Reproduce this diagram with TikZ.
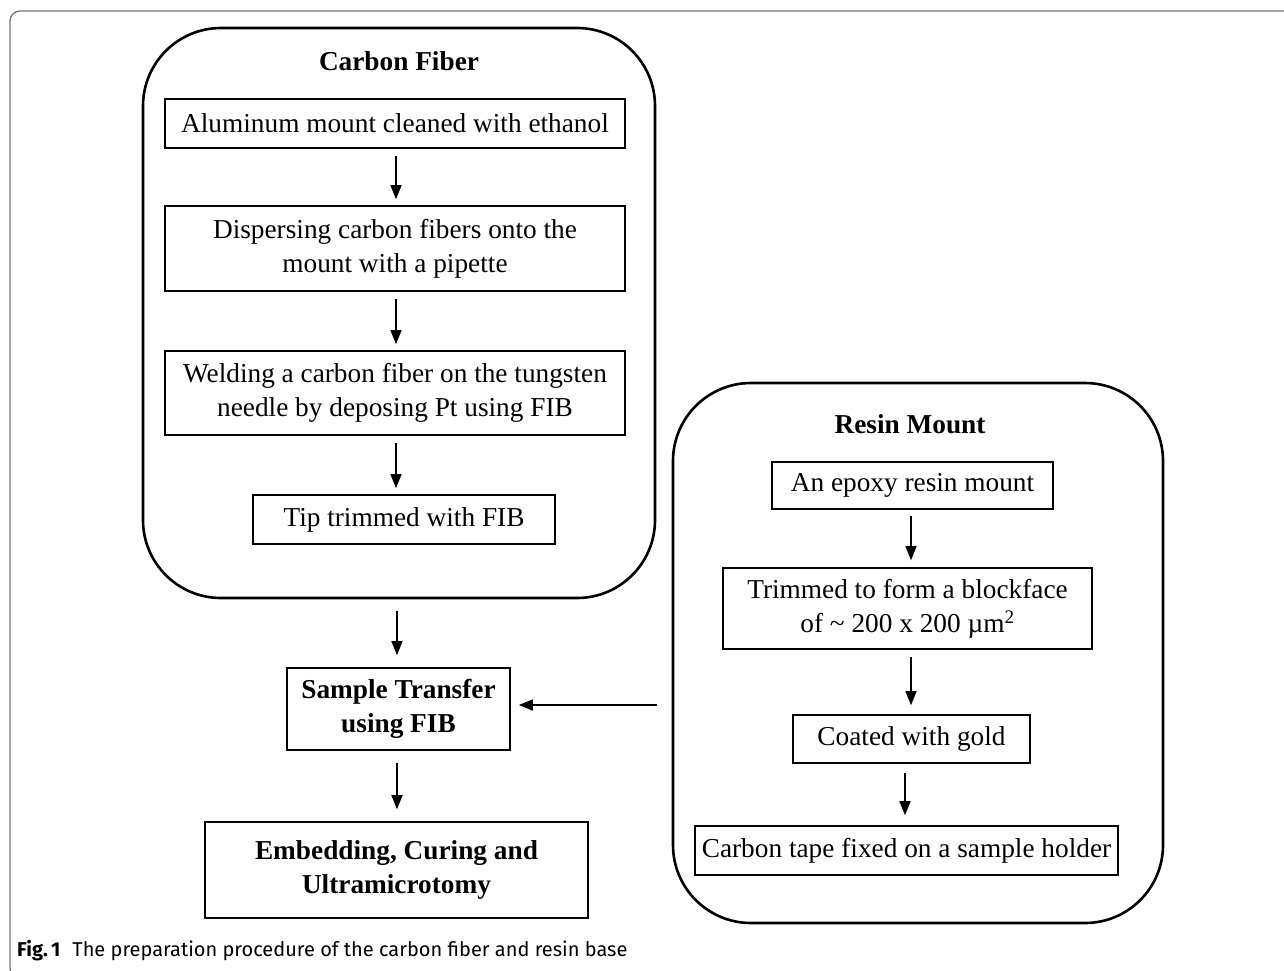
\documentclass[tikz,border=0pt]{standalone}
\usepackage{fontspec}
\setmainfont{Liberation Serif}
\newfontfamily\capfont{Fira Sans}
\usetikzlibrary{arrows.meta,calc}
\tikzset{
  stepbox/.style={draw, line width=1.6pt, align=center, inner sep=0pt,
    font=\fontsize{27.3}{34}\selectfont},
  groupbox/.style={draw, line width=2.6pt, rounded corners=78pt, inner sep=0pt},
  titletext/.style={font=\fontsize{27.3}{34}\selectfont\bfseries, inner sep=0pt},
  arr/.style={line width=1.4pt, -{Triangle[width=11pt,length=14pt]}},
  framestyle/.style={draw=black!55, line width=1.3pt, rounded corners=10pt}
}
\begin{document}
\begin{tikzpicture}[x=1pt,y=-1pt]
\useasboundingbox (0,0) rectangle (1284,970);
% outer frame
\draw[framestyle] (1300,11) -- (10,11) -- (10,978) -- (40,978);
% group boxes
\node[groupbox, minimum width=512pt, minimum height=570pt] (cf) at (399,313) {};
\node[groupbox, minimum width=490pt, minimum height=540pt] (rm) at (918,653) {};
\node[titletext] (cft) at (399,61) {Carbon Fiber};
\node[titletext] (rmt) at (910,424) {Resin Mount};
% carbon fiber steps
\node[stepbox, minimum width=460pt, minimum height=49pt] (a1) at (395,123.5) {Aluminum mount cleaned with ethanol};
\node[stepbox, minimum width=460pt, minimum height=85pt] (a2) at (395,248.5) {Dispersing carbon fibers onto the\\mount with a pipette};
\node[stepbox, minimum width=460pt, minimum height=84pt] (a3) at (395,393) {Welding a carbon fiber on the tungsten\\needle by deposing Pt using FIB};
\node[stepbox, minimum width=302pt, minimum height=49pt] (a4) at (404,519.5) {Tip trimmed with FIB};
% resin steps
\node[stepbox, minimum width=281pt, minimum height=47pt] (b1) at (912.5,485.5) {An epoxy resin mount};
\node[stepbox, minimum width=369pt, minimum height=81pt] (b2) at (907.5,608.5) {Trimmed to form a blockface\\of \textasciitilde{} 200 x 200 µm\textsuperscript{2}};
\node[stepbox, minimum width=237pt, minimum height=48pt] (b3) at (911.5,739) {Coated with gold};
\node[stepbox, minimum width=423pt, minimum height=49pt] (b4) at (906.5,850.5) {Carbon tape fixed on a sample holder};
% main steps
\node[stepbox, font=\fontsize{27.3}{34}\selectfont\bfseries, minimum width=223pt, minimum height=82pt] (st) at (398.5,709) {Sample Transfer\\using FIB};
\node[stepbox, font=\fontsize{27.3}{34}\selectfont\bfseries, minimum width=383pt, minimum height=96pt] (em) at (396.5,870) {Embedding, Curing and\\Ultramicrotomy};
% arrows
\draw[arr] ([yshift=-7pt]a1.south -| 396,0) -- ([yshift=6pt]a2.north -| 396,0);
\draw[arr] ([yshift=-7pt]a2.south -| 396,0) -- ([yshift=6pt]a3.north -| 396,0);
\draw[arr] ([yshift=-7pt]a3.south -| 396,0) -- ([yshift=6pt]a4.north -| 396,0);
\draw[arr] ([yshift=-12pt]cf.south -| 397,0) -- ([yshift=12pt]st.north -| 397,0);
\draw[arr] ([yshift=-12pt]st.south -| 397,0) -- ([yshift=12pt]em.north -| 397,0);
\draw[arr] ([xshift=-15pt]rm.west |- 0,705) -- ([xshift=8pt]st.east |- 0,705);
\draw[arr] ([yshift=-6pt]b1.south -| 911,0) -- ([yshift=7pt]b2.north -| 911,0);
\draw[arr] ([yshift=-7pt]b2.south -| 911,0) -- ([yshift=9pt]b3.north -| 911,0);
\draw[arr] ([yshift=-9pt]b3.south -| 905,0) -- ([yshift=10pt]b4.north -| 905,0);
% caption
\node[anchor=base west, inner sep=0pt, font=\capfont\fontsize{20}{24}\selectfont] (cap) at (17,956) {\textbf{Fig.\,1}\hspace{0.6em}The preparation procedure of the carbon fiber and resin base};
\end{tikzpicture}
\end{document}
